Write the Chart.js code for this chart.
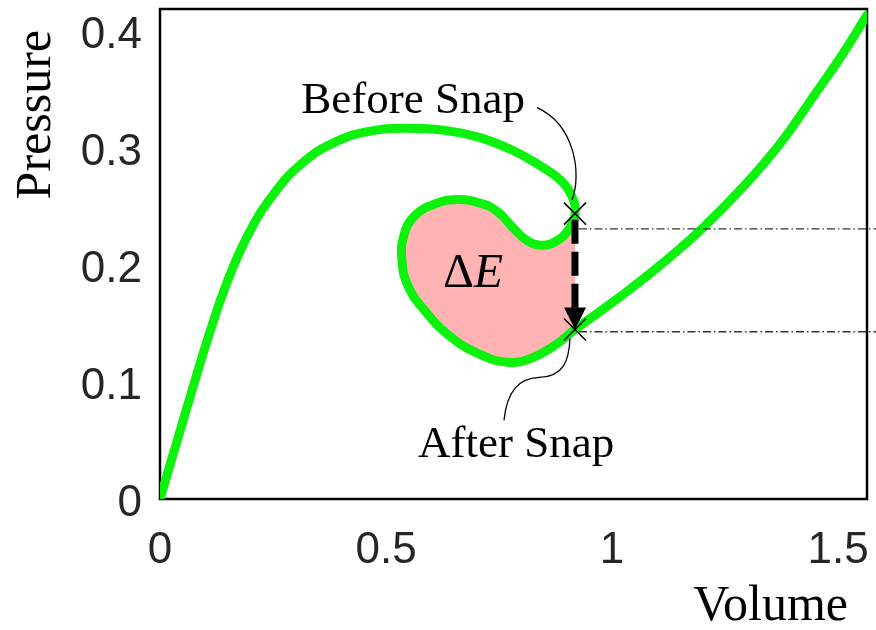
<!DOCTYPE html>
<html>
<head>
<meta charset="utf-8">
<script src="https://cdn.jsdelivr.net/npm/chart.js@4.4.1/dist/chart.umd.min.js"></script>
<style>
  html, body { margin: 0; padding: 0; background: #fff; }
  canvas { display: block; }
</style>
</head>
<body>
<canvas id="pv" width="876" height="630"></canvas>
<script>
// pressure-volume path, in drawing order (loop included)
const volume = [
  0, 0.035, 0.071, 0.108, 0.148, 0.195, 0.248, 0.314, 0.392, 0.471,
  0.546, 0.635, 0.708, 0.781, 0.841, 0.885, 0.912, 0.918,
  0.903, 0.874, 0.843, 0.812, 0.781, 0.746, 0.708, 0.657, 0.606, 0.563,
  0.540, 0.535, 0.549, 0.588, 0.642, 0.706, 0.768, 0.819, 0.872, 0.918,
  1.018, 1.113, 1.201, 1.290, 1.372, 1.445, 1.511, 1.564
];
const pressure = [
  0, 0.046, 0.093, 0.140, 0.185, 0.226, 0.259, 0.287, 0.306, 0.315,
  0.317, 0.315, 0.309, 0.298, 0.285, 0.273, 0.258, 0.244,
  0.230, 0.220, 0.217, 0.221, 0.232, 0.246, 0.253, 0.256, 0.252, 0.242,
  0.226, 0.205, 0.182, 0.160, 0.139, 0.124, 0.117, 0.120, 0.131, 0.145,
  0.173, 0.202, 0.232, 0.267, 0.304, 0.344, 0.381, 0.414
];
const beforeIdx = 17;   // snap starts here
const afterIdx = 37;    // and lands here

const snapVolume = 0.918;
const pressureBefore = 0.244;
const pressureAfter = 0.145;
const guideLevels = [0.231, 0.143];

const xTicks = [0, 0.5, 1, 1.5];
const yTicks = [0, 0.1, 0.2, 0.3, 0.4];

// label anchors in data units
const beforeLabelAt = [0.56, 0.330];
const afterLabelAt = [0.788, 0.036];
const energyLabelAt = [0.626, 0.181];

const green = 'rgb(12, 242, 12)';
const pink = '#ffb3b3';
const serif = '"Liberation Serif", serif';

const path = volume.map((v, i) => ({x: v, y: pressure[i]}));
const loop = path.slice(beforeIdx, afterIdx + 1);

const frameBox = {
  id: 'frameBox',
  beforeDatasetsDraw(chart) {
    const {ctx, chartArea: a} = chart;
    ctx.save();
    ctx.strokeStyle = '#000';
    ctx.lineWidth = 2.5;
    ctx.strokeRect(a.left, a.top, a.right - a.left, a.bottom - a.top);
    ctx.restore();
  },
  afterDraw(chart) {
    // axis names, tucked in from the box corners
    const {ctx, chartArea: a} = chart;
    ctx.save();
    ctx.fillStyle = '#000';
    ctx.font = '50px ' + serif;
    ctx.textBaseline = 'alphabetic';
    ctx.textAlign = 'right';
    ctx.fillText('Volume', a.right - 19, 620);
    ctx.translate(50, a.top + 21);
    ctx.rotate(-Math.PI / 2);
    ctx.fillText('Pressure', 0, 0);
    ctx.restore();
  }
};

const snapMarks = {
  id: 'snapMarks',
  afterDatasetsDraw(chart) {
    const {ctx, scales: {x, y}} = chart;
    const sx = x.getPixelForValue(snapVolume);
    const yb = y.getPixelForValue(pressureBefore);
    const ya = y.getPixelForValue(pressureAfter);
    ctx.save();

    // dash-dot guides out to the right edge
    ctx.strokeStyle = '#333';
    ctx.lineWidth = 1.4;
    ctx.setLineDash([8, 3, 1.5, 3]);
    guideLevels.forEach(v => {
      const gy = y.getPixelForValue(v);
      ctx.beginPath();
      ctx.moveTo(sx + 4, gy);
      ctx.lineTo(chart.width, gy);
      ctx.stroke();
    });

    // dashed snap arrow
    ctx.strokeStyle = '#000';
    ctx.lineWidth = 7;
    ctx.setLineDash([24, 8]);
    ctx.beginPath();
    ctx.moveTo(sx, yb + 6);
    ctx.lineTo(sx, ya - 20);
    ctx.stroke();
    ctx.setLineDash([]);
    ctx.fillStyle = '#000';
    ctx.beginPath();
    ctx.moveTo(sx - 11, ya - 22);
    ctx.lineTo(sx + 11, ya - 22);
    ctx.lineTo(sx, ya);
    ctx.closePath();
    ctx.fill();

    // crosses on both states
    ctx.lineWidth = 1.5;
    [yb, ya].forEach(py => {
      ctx.beginPath();
      ctx.moveTo(sx - 11, py - 11); ctx.lineTo(sx + 11, py + 11);
      ctx.moveTo(sx + 11, py - 11); ctx.lineTo(sx - 11, py + 11);
      ctx.stroke();
    });

    // leader lines
    ctx.lineWidth = 1.3;
    ctx.beginPath();
    ctx.moveTo(sx - 38, yb - 106);
    ctx.bezierCurveTo(sx, yb - 89, sx + 7, yb - 39, sx - 3, yb - 14);
    ctx.stroke();
    ctx.beginPath();
    ctx.moveTo(sx - 71, ya + 91);
    ctx.bezierCurveTo(sx - 68, ya + 61, sx - 56, ya + 49, sx - 36, ya + 48);
    ctx.bezierCurveTo(sx - 11, ya + 47, sx - 6, ya + 31, sx - 5, ya + 9);
    ctx.stroke();

    // labels
    ctx.fillStyle = '#000';
    ctx.textAlign = 'center';
    ctx.textBaseline = 'alphabetic';
    ctx.font = '45px ' + serif;
    ctx.fillText('Before Snap', x.getPixelForValue(beforeLabelAt[0]), y.getPixelForValue(beforeLabelAt[1]));
    ctx.fillText('After Snap', x.getPixelForValue(afterLabelAt[0]), y.getPixelForValue(afterLabelAt[1]));

    ctx.textAlign = 'left';
    const ex = x.getPixelForValue(energyLabelAt[0]);
    const ey = y.getPixelForValue(energyLabelAt[1]);
    ctx.font = '48px ' + serif;
    ctx.fillText('\u0394', ex, ey);
    const dw = ctx.measureText('\u0394').width;
    ctx.font = 'italic 48px ' + serif;
    ctx.fillText('E', ex + dw, ey);
    ctx.restore();
  }
};

function noPad(s) {
  s.paddingTop = 0; s.paddingBottom = 0;
  s.paddingLeft = 0; s.paddingRight = 0;
}

const tickFont = { family: '"Liberation Sans", Arial, sans-serif', size: 44 };

new Chart(document.getElementById('pv'), {
  type: 'scatter',
  data: {
    datasets: [
      {
        data: path,
        showLine: true,
        borderColor: green,
        borderWidth: 9,
        borderCapStyle: 'round',
        borderJoinStyle: 'round',
        pointRadius: 0,
        tension: 0.45,
        fill: false,
        order: 0
      },
      {
        data: loop,
        showLine: true,
        borderWidth: 0,
        borderColor: 'rgba(0,0,0,0)',
        backgroundColor: pink,
        pointRadius: 0,
        tension: 0.45,
        fill: 'shape',
        order: 1
      }
    ]
  },
  options: {
    responsive: false,
    animation: false,
    devicePixelRatio: 1,
    layout: { padding: { top: 9, right: 9, left: 0, bottom: 0 } },
    plugins: {
      legend: { display: false },
      tooltip: { enabled: false }
    },
    scales: {
      x: {
        type: 'linear',
        min: 0,
        max: 1.564,
        afterBuildTicks: s => { s.ticks = xTicks.map(v => ({value: v})); },
        afterFit: s => { s.height = 131; noPad(s); },
        grid: { display: false },
        border: { display: false },
        ticks: {
          padding: 17,
          maxRotation: 0,
          autoSkip: false,
          color: '#262626',
          font: tickFont,
          callback: v => String(v)
        }
      },
      y: {
        type: 'linear',
        min: 0,
        max: 0.419,
        afterBuildTicks: s => { s.ticks = yTicks.map(v => ({value: v})); },
        afterFit: s => { s.width = 160; noPad(s); },
        grid: { display: false },
        border: { display: false },
        ticks: {
          padding: 10,
          labelOffset: 5,
          autoSkip: false,
          color: '#262626',
          font: tickFont,
          callback: v => String(v)
        }
      }
    }
  },
  plugins: [frameBox, snapMarks]
});
</script>
</body>
</html>
